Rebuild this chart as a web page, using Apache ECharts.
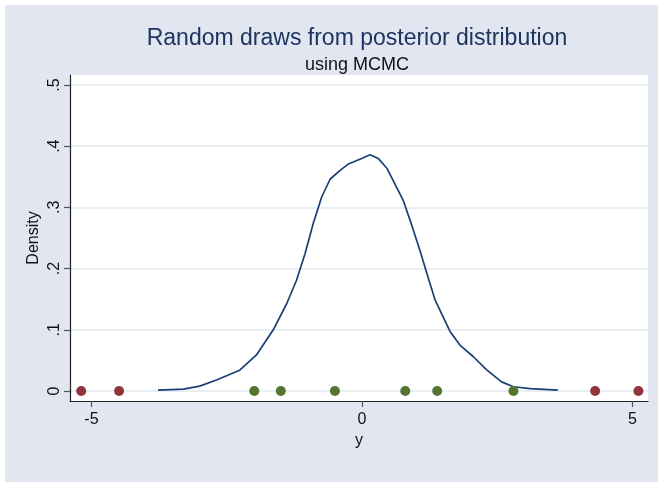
<!DOCTYPE html>
<html>
<head>
<meta charset="utf-8">
<script src="https://cdn.jsdelivr.net/npm/echarts@6/dist/echarts.min.js"></script>
<style>
  html, body { margin: 0; padding: 0; background: #ffffff; }
  #chart { width: 658px; height: 482px; }
</style>
</head>
<body>
<div id="chart"></div>
<script>
// Density curve (kernel density estimate)
var curveX = [-3.77, -3.30, -3.00, -2.69, -2.26, -1.95, -1.64, -1.39, -1.21, -1.05, -0.90, -0.745, -0.59, -0.41, -0.25, -0.005, 0.15, 0.30, 0.46, 0.76, 0.92, 1.07, 1.20, 1.35, 1.63, 1.81, 2.06, 2.30, 2.58, 2.80, 3.11, 3.62];
var curveY = [0.0016, 0.003, 0.008, 0.018, 0.034, 0.059, 0.100, 0.143, 0.181, 0.225, 0.274, 0.317, 0.346, 0.360, 0.371, 0.380, 0.386, 0.380, 0.364, 0.312, 0.271, 0.230, 0.192, 0.149, 0.097, 0.075, 0.056, 0.035, 0.015, 0.007, 0.004, 0.0016];
// Random draws (points on y = 0)
var redDraws = [-5.19, -4.49, 4.31, 5.11];
var greenDraws = [-1.99, -1.50, -0.50, 0.80, 1.39, 2.80];
// Axis ticks
var xTicks = [-5, 0, 5];
var xTickLabels = ['-5', '0', '5'];
var yTicks = [0, 0.1, 0.2, 0.3, 0.4, 0.5];
var yTickLabels = ['0', '.1', '.2', '.3', '.4', '.5'];

var chart = echarts.init(document.getElementById('chart'), null, { renderer: 'canvas' });
var font = '"Liberation Sans", Arial, sans-serif';

var option = {
  backgroundColor: '#e1e6f0',
  animation: false,
  textStyle: { fontFamily: font },
  graphic: [
    { type: 'rect', left: 0, top: 0, shape: { width: 658, height: 5 }, style: { fill: '#ffffff' }, silent: true },
    { type: 'rect', left: 0, top: 0, shape: { width: 5, height: 482 }, style: { fill: '#ffffff' }, silent: true }
  ],
  title: {
    text: 'Random draws from posterior distribution',
    subtext: 'using MCMC',
    left: 352,
    textAlign: 'center',
    top: 22,
    itemGap: 6,
    textStyle: { fontFamily: font, fontSize: 23, fontWeight: 'normal', color: '#1e3560' },
    subtextStyle: { fontFamily: font, fontSize: 18, color: '#111111' }
  },
  grid: {
    left: 70, right: 10, top: 75, bottom: 81,
    show: true, backgroundColor: '#ffffff', borderWidth: 0
  },
  xAxis: {
    type: 'value',
    min: -5.397, max: 5.287,
    name: 'y',
    nameLocation: 'middle',
    nameGap: 28,
    nameTextStyle: { fontFamily: font, fontSize: 16, color: '#111111' },
    axisLine: { show: true, onZero: false, lineStyle: { color: '#222222', width: 1.2 } },
    axisTick: { show: true, length: 6, customValues: xTicks, lineStyle: { color: '#555555', width: 1.2 } },
    axisLabel: {
      customValues: xTicks, margin: 11, fontSize: 16, color: '#111111', fontFamily: font,
      formatter: function (v) { var i = xTicks.indexOf(v); return i >= 0 ? xTickLabels[i] : ''; }
    },
    splitLine: { show: false }
  },
  yAxis: {
    type: 'value',
    min: -0.0163, max: 0.5163,
    name: 'Density',
    nameLocation: 'middle',
    nameGap: 28,
    nameMoveOverlap: false,
    nameRotate: 90,
    nameTextStyle: { fontFamily: font, fontSize: 16, color: '#111111' },
    axisLine: { show: true, onZero: false, lineStyle: { color: '#222222', width: 1.2 } },
    axisTick: { show: true, length: 6, customValues: yTicks, lineStyle: { color: '#555555', width: 1.2 } },
    axisLabel: {
      customValues: yTicks, rotate: 90, margin: 7, fontSize: 16, color: '#111111', fontFamily: font,
      formatter: function (v) {
        for (var i = 0; i < yTicks.length; i++) { if (Math.abs(yTicks[i] - v) < 1e-9) return yTickLabels[i]; }
        return '';
      }
    },
    splitLine: { show: true, customValues: yTicks, lineStyle: { color: '#e2e7f0', width: 1.5 } }
  },
  series: [
    {
      type: 'line',
      data: curveX.map(function (x, i) { return [x, curveY[i]]; }),
      showSymbol: false,
      symbol: 'none',
      smooth: false,
      lineStyle: { color: '#1a3f72', width: 1.7 },
      z: 3
    },
    {
      type: 'scatter',
      data: redDraws.map(function (x) { return [x, 0]; }),
      symbol: 'circle',
      symbolSize: 10,
      itemStyle: { color: '#90353b', opacity: 1 },
      clip: false,
      z: 4
    },
    {
      type: 'scatter',
      data: greenDraws.map(function (x) { return [x, 0]; }),
      symbol: 'circle',
      symbolSize: 10,
      itemStyle: { color: '#55752f', opacity: 1 },
      clip: false,
      z: 4
    }
  ]
};
chart.setOption(option);
</script>
</body>
</html>
